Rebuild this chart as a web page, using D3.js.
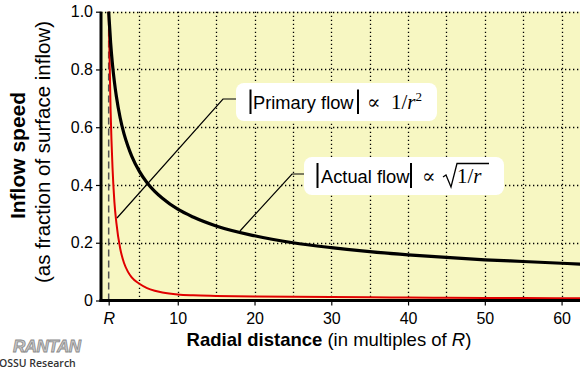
<!DOCTYPE html>
<html><head><meta charset="utf-8">
<script src="https://cdn.jsdelivr.net/npm/d3@7"></script>
<style>
html,body{margin:0;padding:0;background:#fff;}
svg{display:block;font-family:Arial,"Liberation Sans",Helvetica,sans-serif;}
</style></head>
<body>
<svg id="c" width="580" height="372"></svg>
<script>
// radial distance (multiples of R)
const radius = [1, 1.25, 1.5, 1.75, 2, 2.5, 3, 3.5, 4, 5, 6, 7, 8, 10, 12, 15, 20, 25, 30, 35, 40, 45, 50, 55, 60, 62.5];
// |Primary flow| (red)
const primaryFlow = [1.0, 0.66, 0.46, 0.34, 0.27, 0.18, 0.13, 0.10, 0.08, 0.058, 0.043, 0.034, 0.028, 0.021, 0.018, 0.016, 0.014, 0.013, 0.012, 0.011, 0.010, 0.0095, 0.009, 0.0085, 0.008, 0.008];
// |Actual flow| (black)
const actualFlow = [1.0, 0.894, 0.816, 0.756, 0.707, 0.632, 0.577, 0.535, 0.5, 0.447, 0.408, 0.378, 0.354, 0.316, 0.289, 0.258, 0.224, 0.2, 0.183, 0.169, 0.158, 0.149, 0.141, 0.135, 0.129, 0.126];
const xTickValues = [1, 10, 20, 30, 40, 50, 60];
const xTickLabels = ["R", "10", "20", "30", "40", "50", "60"];
const yTickValues = [0, 0.2, 0.4, 0.6, 0.8, 1.0];
const yTickLabels = ["0", "0.2", "0.4", "0.6", "0.8", "1.0"];
const xGridValues = [5, 10, 15, 20, 25, 30, 35, 40, 45, 50, 55, 60];
const yGridValues = [0.2, 0.4, 0.6, 0.8, 1.0];

const svg = d3.select("#c");
const L = 101, R = 580, T = 11.7, B = 300.5;
const x = d3.scaleLinear().domain([0, 62.4]).range([L, R]);
const y = d3.scaleLinear().domain([0, 1]).range([B, T]);

svg.append("defs").append("clipPath").attr("id","clip")
  .append("rect").attr("x", L).attr("y", T-2).attr("width", R-L).attr("height", B-T+2);

svg.append("rect").attr("x", L).attr("y", T).attr("width", R-L).attr("height", B-T).attr("fill", "#f7f7c2");

// grid
const g = svg.append("g").attr("stroke", "#000").attr("stroke-width", 1.3).attr("stroke-dasharray", "1.3,2.7");
g.selectAll("line.v").data(xGridValues).join("line").attr("class","v")
  .attr("x1", d => Math.round(x(d))+0.5).attr("x2", d => Math.round(x(d))+0.5).attr("y1", T).attr("y2", B);
g.selectAll("line.h").data(yGridValues).join("line").attr("class","h")
  .attr("y1", d => Math.round(y(d))+0.5).attr("y2", d => Math.round(y(d))+0.5).attr("x1", L).attr("x2", R);

// dashed R line
svg.append("line").attr("x1", x(1)).attr("x2", x(1)).attr("y1", B).attr("y2", T)
  .attr("stroke", "#555").attr("stroke-width", 1.5).attr("stroke-dasharray", "7,4");

const pts = (arr) => radius.map((r, i) => [r, arr[i]]);
const line = d3.line().x(d => x(d[0])).y(d => y(d[1])).curve(d3.curveMonotoneX);
const curves = svg.append("g").attr("clip-path", "url(#clip)");
curves.append("path").attr("d", line(pts(primaryFlow))).attr("fill","none").attr("stroke","#e00000").attr("stroke-width", 2);
curves.append("path").attr("d", line(pts(actualFlow))).attr("fill","none").attr("stroke","#000").attr("stroke-width", 3.2);

// axes
const xAxis = d3.axisBottom(x).tickValues(xTickValues).tickFormat((d,i) => xTickLabels[i]).tickSize(5).tickSizeOuter(0);
const xa = svg.append("g").attr("transform", `translate(0,${B})`).call(xAxis);
xa.select(".domain").remove();
xa.selectAll(".tick line").attr("stroke","#000").attr("stroke-width",1.2);
xa.selectAll(".tick text").attr("font-size", 16).attr("fill","#000").attr("dy", "0.95em")
  .attr("font-style", (d,i) => i === 0 ? "italic" : "normal").attr("font-family", "Arial, 'Liberation Sans', sans-serif");
const yAxis = d3.axisLeft(y).tickValues(yTickValues).tickFormat((d,i) => yTickLabels[i]).tickSize(5).tickSizeOuter(0);
const ya = svg.append("g").attr("transform", `translate(${L},0)`).call(yAxis);
ya.select(".domain").remove();
ya.selectAll(".tick line").attr("stroke","#000").attr("stroke-width",1.2);
ya.selectAll(".tick text").attr("font-size", 16).attr("fill","#000").attr("x", -8).attr("font-family", "Arial, 'Liberation Sans', sans-serif");

svg.append("line").attr("x1", L).attr("x2", L).attr("y1", T).attr("y2", B+1.5).attr("stroke","#000").attr("stroke-width", 3);
svg.append("line").attr("x1", L-1.5).attr("x2", R).attr("y1", B).attr("y2", B).attr("stroke","#000").attr("stroke-width", 3);

// axis titles
const xt = svg.append("text").attr("x", 329).attr("y", 346).attr("text-anchor","middle").attr("font-size", 18.5).attr("fill","#000");
xt.append("tspan").attr("font-weight","bold").text("Radial distance");
xt.append("tspan").text(" (in multiples of ");
xt.append("tspan").attr("font-style","italic").text("R");
xt.append("tspan").text(")");

svg.append("text").attr("transform","translate(25,155.5) rotate(-90)").attr("text-anchor","middle")
  .attr("font-size", 21).attr("font-weight","bold").text("Inflow speed");
svg.append("text").attr("transform","translate(49.5,152) rotate(-90)").attr("text-anchor","middle")
  .attr("font-size", 20.5).text("(as fraction of surface inflow)");

// annotations
const ann = svg.append("g");
ann.append("polyline").attr("points", "117,218 223,99 236,99").attr("fill","none").attr("stroke","#000").attr("stroke-width",1.2);
ann.append("polyline").attr("points", "240,231 292,174 304,174").attr("fill","none").attr("stroke","#000").attr("stroke-width",1.2);

ann.append("rect").attr("x",236).attr("y",83).attr("width",201).attr("height",38).attr("rx",8).attr("fill","#fff");
ann.append("rect").attr("x",304).attr("y",157).attr("width",200).attr("height",38).attr("rx",8).attr("fill","#fff");

function bar(xp, y1, y2){ ann.append("line").attr("x1",xp).attr("x2",xp).attr("y1",y1).attr("y2",y2).attr("stroke","#000").attr("stroke-width",2); }
const serif = "'Liberation Serif','DejaVu Serif',Times,serif";

// Primary flow label
bar(250.5, 89.5, 114);
ann.append("text").attr("x",253).attr("y",109).attr("font-size",18.3).text("Primary flow");
bar(358, 89.5, 114);
ann.append("text").attr("x",367).attr("y",109).attr("font-size",20).attr("font-family","'DejaVu Serif',serif").text("\u221D");
const t1 = ann.append("text").attr("x",391).attr("y",109).attr("font-size",21).attr("font-family",serif);
t1.append("tspan").text("1/");
t1.append("tspan").attr("font-style","italic").text("r");
t1.append("tspan").attr("font-size",13).attr("dy",-8).text("2");

// Actual flow label
bar(317.5, 163, 188);
ann.append("text").attr("x",321).attr("y",183).attr("font-size",18.3).text("Actual flow");
bar(411, 163, 188);
ann.append("text").attr("x",422).attr("y",183).attr("font-size",20).attr("font-family","'DejaVu Serif',serif").text("\u221D");
ann.append("path").attr("d","M443,177 L446,175 L451,187 L457,163.5 L489,163.5").attr("fill","none").attr("stroke","#000").attr("stroke-width",1.3);
const t2 = ann.append("text").attr("x",457).attr("y",183).attr("font-size",21).attr("font-family",serif);
t2.append("tspan").text("1/");
t2.append("tspan").attr("font-style","italic").text("r");

// logo
svg.append("text").attr("x",13).attr("y",352).attr("font-size",17).attr("font-style","italic").attr("font-weight","bold")
  .attr("fill","#c8c8c8").attr("stroke","#8a8a8a").attr("stroke-width",0.8).attr("letter-spacing",-0.5).text("RANTAN");
svg.append("text").attr("x",-1).attr("y",367).attr("font-size",10.5).attr("font-weight",600).attr("fill","#333").attr("font-family","'Open Sans','DejaVu Sans',sans-serif").text("OSSU Research");
</script>
</body></html>
